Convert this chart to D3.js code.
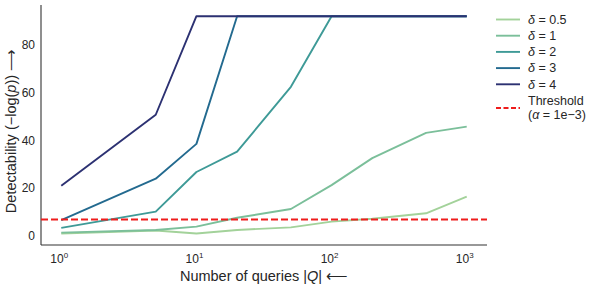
<!DOCTYPE html>
<html>
<head>
<meta charset="utf-8">
<script src="https://cdn.jsdelivr.net/npm/d3@7/dist/d3.min.js"></script>
<style>
  body { margin: 0; background: #fff; }
  svg { font-family: "Liberation Sans", Arial, sans-serif; }
</style>
</head>
<body>
<svg id="chart" width="598" height="289"></svg>
<script>
// number of queries
const queries = [1, 5, 10, 20, 50, 100, 200, 500, 1000];

const deltas = ['0.5', '1', '2', '3', '4'];
const colors = ['#a3d29a', '#7bbf9a', '#3e9a97', '#236a8f', '#2c3172'];

// -log(p) per delta
const delta05 = [1.0, 2.3, 1.0, 2.5, 3.6, 6.0, 7.2, 9.5, 16.5];
const delta1 = [1.4, 2.5, 3.9, 7.6, 11.3, 21.3, 32.6, 43.2, 45.8];
const delta2 = [3.4, 10.2, 26.8, 35.3, 62.5, 92.1, 92.1, 92.1, 92.1];
const delta3 = [6.6, 24.0, 38.6, 92.1, 92.1, 92.1, 92.1, 92.1, 92.1];
const delta4 = [21.0, 50.8, 92.1, 92.1, 92.1, 92.1, 92.1, 92.1, 92.1];
const series = [delta05, delta1, delta2, delta3, delta4];

const threshold = -Math.log(1e-3);
const yTicks = [0, 20, 40, 60, 80];
const xTicks = [1, 10, 100, 1000];

const svg = d3.select('#chart');
const m = { left: 41, right: 487, top: 5, bottom: 245 };

let x = d3.scaleLog()
    .domain([Math.pow(10, -0.15), Math.pow(10, 3.15)])
    .range([m.left, m.right]);
let y = d3.scaleLinear()
    .domain([-3.8, 96.8])
    .range([m.bottom, m.top]);

// spines
svg.append('line').attr('x1', m.left).attr('x2', m.left).attr('y1', m.top).attr('y2', m.bottom)
    .attr('stroke', '#333').attr('stroke-width', 1.1);
svg.append('line').attr('x1', m.left).attr('x2', m.right).attr('y1', m.bottom).attr('y2', m.bottom)
    .attr('stroke', '#333').attr('stroke-width', 1.1);

// y tick labels
svg.append('g').selectAll('text').data(yTicks).join('text')
    .attr('x', m.left - 6)
    .attr('y', (d) => y(d))
    .attr('dy', '0.35em')
    .attr('text-anchor', 'end')
    .attr('font-size', 12)
    .attr('fill', '#262626')
    .text((d) => d);

// x tick labels 10^n
let xt = svg.append('g').selectAll('text').data(xTicks).join('text')
    .attr('x', (d) => x(d) - 2)
    .attr('y', 263)
    .attr('text-anchor', 'middle')
    .attr('font-size', 12)
    .attr('fill', '#262626');
xt.append('tspan').text('10');
xt.append('tspan').attr('dy', -5).attr('font-size', 8).text((d) => Math.round(Math.log10(d)));

// axis labels
svg.append('text')
    .attr('x', (m.left + m.right) / 2)
    .attr('y', 281)
    .attr('text-anchor', 'middle')
    .attr('font-size', 14.5)
    .attr('fill', '#262626')
    .html('Number of queries |<tspan font-style="italic">Q</tspan>| \u27F5');

svg.append('text')
    .attr('transform', `translate(16,131) rotate(-90)`)
    .attr('text-anchor', 'middle')
    .attr('font-size', 14.5)
    .attr('fill', '#262626')
    .html('Detectability (\u2212log(<tspan font-style="italic">p</tspan>)) \u27F6');

// lines
let lineFunction = d3.line()
    .x((d, i) => x(queries[i]))
    .y((d) => y(d));

svg.append('g').selectAll('path').data(series).join('path')
    .attr('d', (d) => lineFunction(d))
    .attr('fill', 'none')
    .attr('stroke', (d, i) => colors[i])
    .attr('stroke-width', 1.9)
    .attr('stroke-linejoin', 'round');

// threshold
svg.append('line')
    .attr('x1', m.left).attr('x2', m.right)
    .attr('y1', y(threshold)).attr('y2', y(threshold))
    .attr('stroke', '#ee1c1c')
    .attr('stroke-width', 1.9)
    .attr('stroke-dasharray', '7,3');

// legend
let legend = svg.append('g').attr('font-size', 12.5).attr('fill', '#262626');
deltas.forEach((dl, i) => {
    let ly = 19.5 + i * 16.2;
    legend.append('line').attr('x1', 496).attr('x2', 520).attr('y1', ly).attr('y2', ly)
        .attr('stroke', colors[i]).attr('stroke-width', 1.9);
    legend.append('text').attr('x', 528).attr('y', ly).attr('dy', '0.35em')
        .html(`<tspan font-style="italic">\u03B4</tspan> = ${dl}`);
});
legend.append('line').attr('x1', 496).attr('x2', 520).attr('y1', 108).attr('y2', 108)
    .attr('stroke', '#ee1c1c').attr('stroke-width', 1.9).attr('stroke-dasharray', '5,2.5');
legend.append('text').attr('x', 528).attr('y', 101).attr('dy', '0.35em').text('Threshold');
legend.append('text').attr('x', 528).attr('y', 115).attr('dy', '0.35em')
    .html('(<tspan font-style="italic">\u03B1</tspan> = 1e\u22123)');
</script>
</body>
</html>
